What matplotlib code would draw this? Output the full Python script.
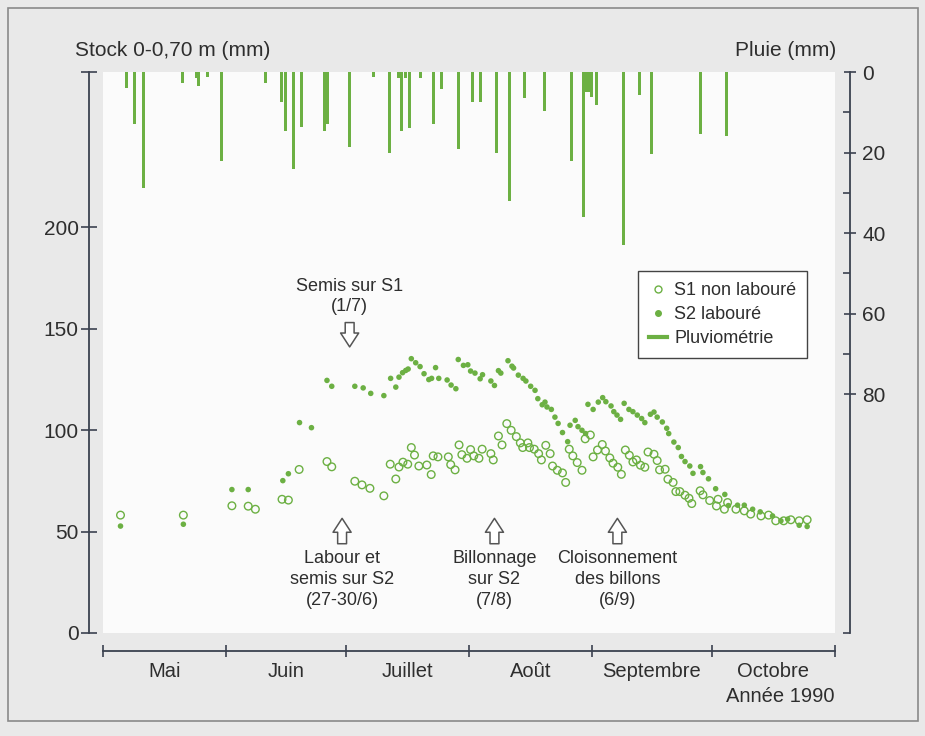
import matplotlib
matplotlib.use('Agg')
import matplotlib.pyplot as plt
from matplotlib.lines import Line2D
from matplotlib.patches import Rectangle
from matplotlib.ticker import FixedLocator, NullFormatter

plt.rcParams['font.family'] = ['Liberation Sans', 'DejaVu Sans']

GREEN = '#6cb043'
DARK = '#3b4250'
TXT = '#2e2e2e'

# ---------------- data ----------------
months = ['Mai', 'Juin', 'Juillet', 'Août', 'Septembre', 'Octobre']
month_starts = [0, 31, 61, 92, 123, 153, 184]   # days since 1 May 1990

# rainfall (mm) : day since 1 May, amount
rain_day = [6.0, 8.0, 10.1, 19.9, 23.4, 24.1, 26.2, 29.9, 40.8, 44.8, 45.8, 47.8,
            49.9, 55.7, 56.5, 62.0, 68.1, 71.9, 74.2, 75.0, 76.1, 77.1, 79.8, 83.2,
            85.1, 89.3, 92.8, 95.0, 98.9, 102.3, 105.9, 110.9, 117.8, 120.8, 121.5,
            122.2, 122.9, 124.0, 130.9, 134.8, 137.9, 150.1, 156.8]
rain_mm = [3.9, 13.0, 28.8, 2.8, 1.5, 3.5, 1.2, 22.0, 2.8, 7.4, 14.7, 24.0,
           13.7, 14.7, 12.8, 18.5, 1.2, 20.0, 1.5, 14.7, 1.5, 14.0, 1.5, 13.0,
           4.3, 19.0, 7.4, 7.4, 20.0, 32.0, 6.4, 9.7, 22.0, 36.0, 4.9,
           4.9, 6.2, 8.2, 43.0, 5.8, 20.3, 15.5, 16.0]

# S2 labouré (stock 0-0.70 m, mm)
s2_day = [4.4, 20.2, 32.4, 36.5, 45.2, 46.6, 49.4, 52.4, 56.3, 57.5, 63.3, 65.4,
          67.3, 70.6, 72.3, 73.6, 74.4, 75.3, 76.1, 76.7, 77.5, 78.6, 79.7, 80.7,
          81.9, 82.6, 83.6, 84.4, 86.5, 87.5, 88.7, 89.3, 90.6, 91.7, 92.4, 93.5,
          94.8, 95.4, 97.5, 98.4, 99.4, 100.0, 101.8, 102.8, 103.2, 104.4, 105.6,
          106.3, 107.5, 108.6, 109.3, 110.4, 111.1, 111.6, 112.7, 113.6, 114.4,
          115.5, 116.8, 117.4, 118.7, 119.4, 120.4, 121.3, 121.9, 123.2, 124.5,
          125.6, 126.4, 127.7, 128.4, 129.2, 130.1, 131.0, 132.2, 133.2, 134.3,
          135.4, 136.2, 137.6, 138.5, 139.3, 140.6, 141.7, 142.2, 143.5, 144.6,
          145.4, 146.3, 147.5, 148.3, 150.2, 150.8, 152.2, 154.0, 156.3, 157.2,
          159.5, 161.2, 163.3, 165.2, 168.3, 170.4, 172.1, 175.0, 177.0]
s2_mm = [52.7, 53.6, 70.7, 70.7, 75.1, 78.5, 103.7, 101.2, 124.5, 121.6, 121.6, 120.8,
         118.1, 117.0, 125.5, 121.2, 126.1, 128.3, 129.4, 130.1, 135.2, 133.2, 131.3, 127.8,
         124.9, 125.5, 130.8, 125.5, 124.7, 122.2, 120.4, 134.8, 131.9, 132.2, 129.1, 128.1,
         125.3, 127.3, 124.2, 122.0, 129.3, 128.1, 134.2, 131.5, 130.6, 127.1, 125.5,
         124.2, 121.6, 119.6, 115.5, 112.5, 113.8, 111.4, 110.2, 106.4, 103.3,
         98.8, 94.3, 102.4, 104.8, 101.7, 99.9, 98.3, 112.7, 110.2, 113.8,
         116.0, 114.0, 111.9, 109.1, 107.4, 105.3, 113.2, 110.2, 109.1, 107.4,
         105.7, 103.7, 107.8, 108.9, 106.4, 104.0, 100.9, 98.3, 94.1, 91.4,
         87.0, 84.5, 82.3, 78.7, 82.0, 79.1, 76.0, 71.1, 68.3, 62.8,
         63.0, 63.0, 61.0, 59.7, 57.7, 55.3, 56.1, 53.1, 52.5]

# S1 non labouré
s1_day = [4.4, 20.2, 32.4, 36.5, 38.3, 45.0, 46.6, 49.3, 56.3, 57.5, 63.3, 65.1,
          67.1, 70.6, 72.2, 73.6, 74.4, 75.4, 76.6, 77.5, 78.3, 79.4, 81.4, 82.5,
          83.0, 84.2, 86.8, 87.4, 88.5, 89.5, 90.2, 91.5, 92.4, 93.2, 94.5, 95.3,
          97.5, 98.1, 99.4, 100.3, 101.5, 102.6, 103.9, 104.9, 105.5, 106.8, 107.2,
          108.4, 109.5, 110.2, 111.3, 112.4, 113.0, 114.2, 115.5, 116.3, 117.2,
          118.1, 119.2, 120.4, 121.2, 122.5, 123.2, 124.3, 125.5, 126.3, 127.4,
          128.2, 129.4, 130.3, 131.3, 132.3, 133.2, 134.1, 135.1, 136.2, 137.0,
          138.5, 139.3, 139.9, 141.3, 142.0, 143.3, 144.0, 145.0, 146.3, 147.3,
          148.0, 150.1, 150.8, 152.5, 154.2, 154.6, 156.2, 157.0, 159.1, 161.2,
          162.8, 165.4, 167.3, 169.1, 171.1, 172.9, 175.0, 177.0]
s1_mm = [58.1, 58.1, 62.7, 62.5, 61.0, 65.9, 65.5, 80.6, 84.5, 81.9, 74.8, 73.0,
         71.3, 67.6, 83.2, 75.9, 81.8, 84.2, 83.2, 91.4, 87.7, 82.3, 82.8, 78.1,
         87.3, 86.8, 86.8, 83.0, 80.4, 92.7, 87.9, 86.1, 90.4, 87.3, 86.1, 90.6,
         88.4, 85.3, 97.1, 92.7, 103.2, 99.9, 96.8, 93.7, 91.4, 93.7, 91.4,
         90.6, 88.4, 85.3, 92.5, 88.4, 82.3, 80.2, 78.9, 74.2, 90.6,
         87.3, 84.0, 80.2, 95.7, 97.6, 86.8, 90.2, 92.9, 89.7, 86.3,
         83.7, 81.7, 78.2, 90.2, 87.6, 84.3, 85.3, 82.7, 81.7, 89.2,
         88.1, 85.0, 80.4, 80.7, 75.8, 74.2, 69.7, 69.7, 67.9, 66.4,
         63.8, 70.1, 68.1, 65.3, 62.6, 65.9, 61.0, 64.3, 61.0, 60.2,
         58.6, 57.7, 58.1, 55.3, 55.3, 55.8, 55.3, 55.8]

stock_ticks = [0, 50, 100, 150, 200]
rain_ticks = [0, 20, 40, 60, 80]
rain_minor = [10, 30, 50, 70]

# ---------------- figure ----------------
fig = plt.figure(figsize=(9.25, 7.36), dpi=100, facecolor='#e9e9e9')
fig.patches.append(Rectangle((8 / 925, 1 - 721 / 736), 910 / 925, 713 / 736,
                             transform=fig.transFigure, fill=False,
                             ec='#8a8a8a', lw=1.2, zorder=0))

ax = fig.add_axes([103 / 925, 1 - 633 / 736, 732 / 925, 561 / 736])
ax.set_facecolor('#fbfbfb')
ax.set_xlim(0, 184)
ax.set_ylim(0, 276.5)

ax2 = ax.twinx()
ax2.set_ylim(139.3, 0)

# rain bars hanging from top
ax2.bar(rain_day, rain_mm, width=0.75, bottom=0, color=GREEN, linewidth=0, zorder=2)

# soil water stock
ax.scatter(s1_day, s1_mm, s=30, facecolors='none', edgecolors=GREEN,
           linewidths=1.0, zorder=3)
ax.scatter(s2_day, s2_mm, s=16, facecolors=GREEN, edgecolors='none', zorder=4)

# spines
for sp in ['top', 'right']:
    ax.spines[sp].set_visible(False)
for sp in ['top', 'left', 'bottom']:
    ax2.spines[sp].set_visible(False)
ax.spines['left'].set_position(('outward', 10))
ax.spines['bottom'].set_position(('outward', 13))
ax2.spines['right'].set_position(('outward', 11))
for s in [ax.spines['left'], ax.spines['bottom'], ax2.spines['right']]:
    s.set_color(DARK)
    s.set_linewidth(1.3)

# x axis: month boundaries + centered labels
ax.set_xticks(month_starts)
ax.set_xticklabels([])
centers = [(month_starts[i] + month_starts[i + 1]) / 2 for i in range(6)]
ax.xaxis.set_minor_locator(FixedLocator(centers))
ax.set_xticklabels(months, minor=True)
ax.tick_params(axis='x', which='major', direction='inout', length=9, width=1.2, color=DARK)
ax.tick_params(axis='x', which='minor', length=0, pad=8, labelsize=14.5, labelcolor=TXT)

# left axis
ax.set_yticks(stock_ticks)
ax.yaxis.set_minor_locator(FixedLocator([276.5]))
ax.yaxis.set_minor_formatter(NullFormatter())
ax.tick_params(axis='y', which='both', direction='inout', length=11, width=1.2,
               color=DARK, labelsize=15, labelcolor=TXT, pad=2)

# right axis
ax2.set_yticks(rain_ticks)
ax2.yaxis.set_minor_locator(FixedLocator(rain_minor + [139.3]))
ax2.tick_params(axis='y', which='major', direction='inout', length=9, width=1.2,
                color=DARK, labelsize=15, labelcolor=TXT, pad=4)
ax2.tick_params(axis='y', which='minor', direction='in', length=5, width=1.2, color=DARK)

# titles
fig.text(75 / 925, 1 - 50 / 736, 'Stock 0-0,70 m (mm)', fontsize=15, color=TXT,
         ha='left', va='center')
fig.text(836 / 925, 1 - 50 / 736, 'Pluie (mm)', fontsize=15, color=TXT,
         ha='right', va='center')
fig.text(835 / 925, 1 - 697 / 736, 'Année 1990', fontsize=14.5, color=TXT,
         ha='right', va='center')

# annotations
arrow_kw = dict(arrowstyle='simple,head_length=0.5,head_width=0.65,tail_width=0.32',
                fc='white', ec='#555555', lw=1.1, mutation_scale=20,
                shrinkA=0, shrinkB=0)
ax.text(62, 156.5, 'Semis sur S1\n(1/7)', ha='center', va='bottom',
        fontsize=13, color=TXT, linespacing=1.3)
ax.annotate('', xy=(62, 141), xytext=(62, 153), arrowprops=arrow_kw)

events = [(60.1, 'Labour et\nsemis sur S2\n(27-30/6)'),
          (98.4, 'Billonnage\nsur S2\n(7/8)'),
          (129.3, 'Cloisonnement\ndes billons\n(6/9)')]
for x, label in events:
    ax.annotate('', xy=(x, 56.5), xytext=(x, 44), arrowprops=arrow_kw)
    ax.text(x, 41, label, ha='center', va='top', fontsize=13, color=TXT,
            linespacing=1.3)

# legend
handles = [Line2D([], [], marker='o', ls='none', mfc='none', mec=GREEN, ms=5, mew=1),
           Line2D([], [], marker='o', ls='none', mfc=GREEN, mec=GREEN, ms=4),
           Line2D([], [], color=GREEN, lw=3)]
leg = ax2.legend(handles, ['S1 non labouré', 'S2 labouré', 'Pluviométrie'],
                 loc='upper left', bbox_to_anchor=(0.731, 0.645), fontsize=13,
                 frameon=True, fancybox=False, edgecolor='#444444', framealpha=1,
                 handlelength=1.0, handletextpad=0.4, borderpad=0.6,
                 labelspacing=0.4, borderaxespad=0)
leg.get_frame().set_linewidth(1.0)
for t in leg.get_texts():
    t.set_color(TXT)

fig.savefig('out.png', dpi=100, facecolor=fig.get_facecolor())
